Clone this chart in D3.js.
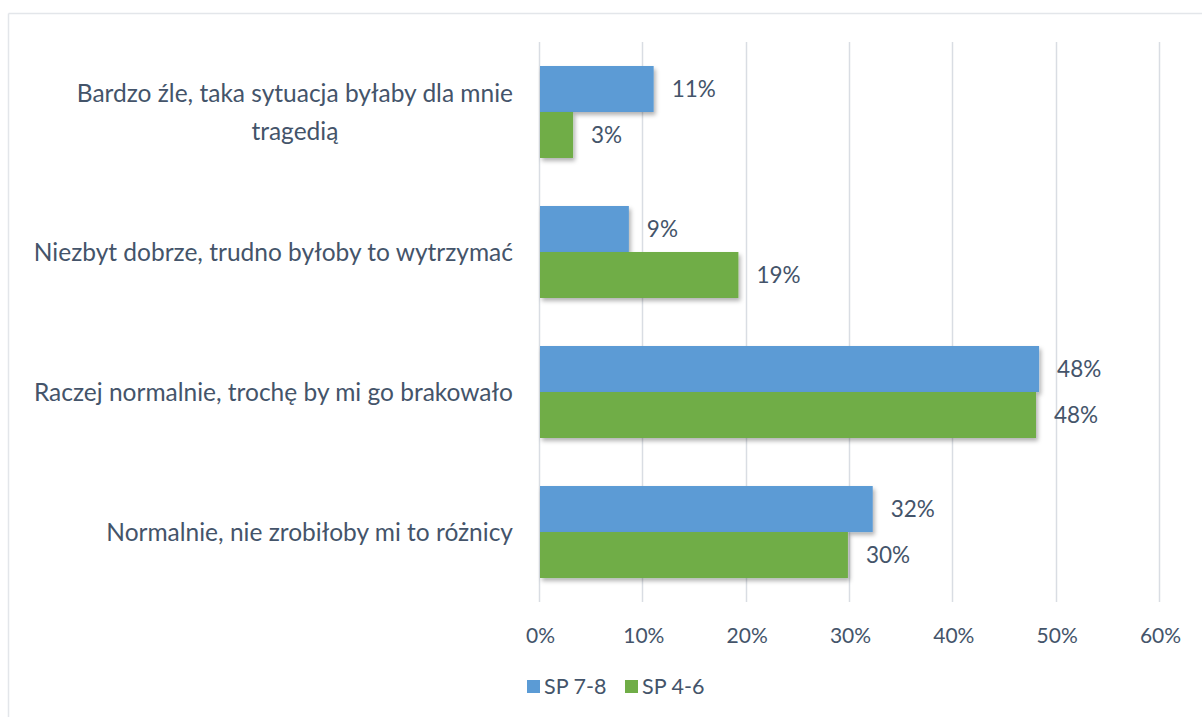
<!DOCTYPE html>
<html><head><meta charset="utf-8">
<script src="https://cdn.jsdelivr.net/npm/d3@7"></script>
<style>
html,body{margin:0;padding:0;background:#fff;}
svg{display:block;}
text{font-family:Lato,"Open Sans",sans-serif;fill:#44546a;}
</style></head>
<body>
<svg id="c" width="1202" height="717"></svg>
<script>
const categories = [
  ["Bardzo źle, taka sytuacja byłaby dla mnie", "tragedią"],
  ["Niezbyt dobrze, trudno byłoby to wytrzymać"],
  ["Raczej normalnie, trochę by mi go brakowało"],
  ["Normalnie, nie zrobiłoby mi to różnicy"]
];
const seriesNames = ["SP 7-8", "SP 4-6"];
const sp78 = [11.0, 8.6, 48.3, 32.2];
const sp46 = [3.2, 19.2, 48.0, 29.8];
const dataLabels78 = ["11%", "9%", "48%", "32%"];
const dataLabels46 = ["3%", "19%", "48%", "30%"];
const xTicks = [0, 10, 20, 30, 40, 50, 60];
const colors = ["#5b9bd5", "#70ad47"];

const svg = d3.select("#c");
const W = 1202, H = 717;

// outer border (left & top visible)
svg.append("line").attr("x1",8.5).attr("x2",8.5).attr("y1",13.5).attr("y2",H).attr("stroke","#e3e6ea").attr("stroke-width",1.5);
svg.append("line").attr("x1",8.5).attr("x2",W).attr("y1",13.5).attr("y2",13.5).attr("stroke","#e3e6ea").attr("stroke-width",1.5);

const defs = svg.append("defs");
const f = defs.append("filter").attr("id","sh").attr("x","-5%").attr("y","-20%").attr("width","120%").attr("height","150%");
f.append("feDropShadow").attr("dx",2).attr("dy",3).attr("stdDeviation",2).attr("flood-color","#000").attr("flood-opacity",0.3);

const x = d3.scaleLinear().domain([0, 60]).range([540, 1160]);
const y = d3.scaleBand().domain(d3.range(categories.length)).range([42, 602]).paddingInner(0.343).paddingOuter(0.1714);
const sub = d3.scaleBand().domain([0,1]).range([0, y.bandwidth()]);

// gridlines
svg.append("g").selectAll("line").data(xTicks).join("line")
  .attr("x1", d => Math.round(x(d)) - 0.5).attr("x2", d => Math.round(x(d)) - 0.5)
  .attr("y1", 42).attr("y2", 602)
  .attr("stroke", "#d9dde3").attr("stroke-width", 1.5);

// x axis labels
const xAxis = d3.axisBottom(x).tickValues(xTicks).tickFormat(d => d + "%").tickSize(0).tickPadding(0);
const gx = svg.append("g").attr("transform", "translate(0,643)").call(xAxis);
gx.select(".domain").remove();
gx.selectAll("text").attr("font-size", 21).attr("fill", "#44546a").attr("dy", 0)
  .style("font-family", 'Lato,"Open Sans",sans-serif');

// bars
const series = [sp78, sp46];
const labels = [dataLabels78, dataLabels46];
series.forEach((vals, si) => {
  const g = svg.append("g");
  g.selectAll("rect").data(vals).join("rect")
    .attr("x", x(0))
    .attr("y", (d, i) => y(i) + sub(si))
    .attr("width", d => x(d) - x(0))
    .attr("height", sub.bandwidth())
    .attr("fill", colors[si])
    .attr("filter", "url(#sh)");
  g.selectAll("text").data(vals).join("text")
    .attr("x", d => x(d) + 18)
    .attr("y", (d, i) => y(i) + sub(si) + sub.bandwidth() / 2)
    .attr("dy", "0.35em")
    .attr("font-size", 22.5)
    .text((d, i) => labels[si][i]);
});

// category labels
const labelRight = 513;
categories.forEach((lines, i) => {
  const cy = y(i) + y.bandwidth() / 2;
  const lh = 38;
  const t = svg.append("text").attr("font-size", 24.5).attr("text-anchor", "middle");
  const tsp = lines.map((ln, k) => t.append("tspan").text(ln)
    .attr("y", cy + (k - (lines.length - 1) / 2) * lh).attr("dy", "0.35em"));
  const maxW = d3.max(tsp, s => s.node().getComputedTextLength());
  tsp.forEach(s => s.attr("x", labelRight - maxW / 2));
});

// legend
const leg = svg.append("g");
const legX = [527, 625];
seriesNames.forEach((n, i) => {
  leg.append("rect").attr("x", legX[i]).attr("y", 680).attr("width", 13).attr("height", 13).attr("fill", colors[i]);
  leg.append("text").attr("x", legX[i] + 17).attr("y", 686.5).attr("dy", "0.35em").attr("font-size", 21.5).text(n);
});
</script>
</body></html>
